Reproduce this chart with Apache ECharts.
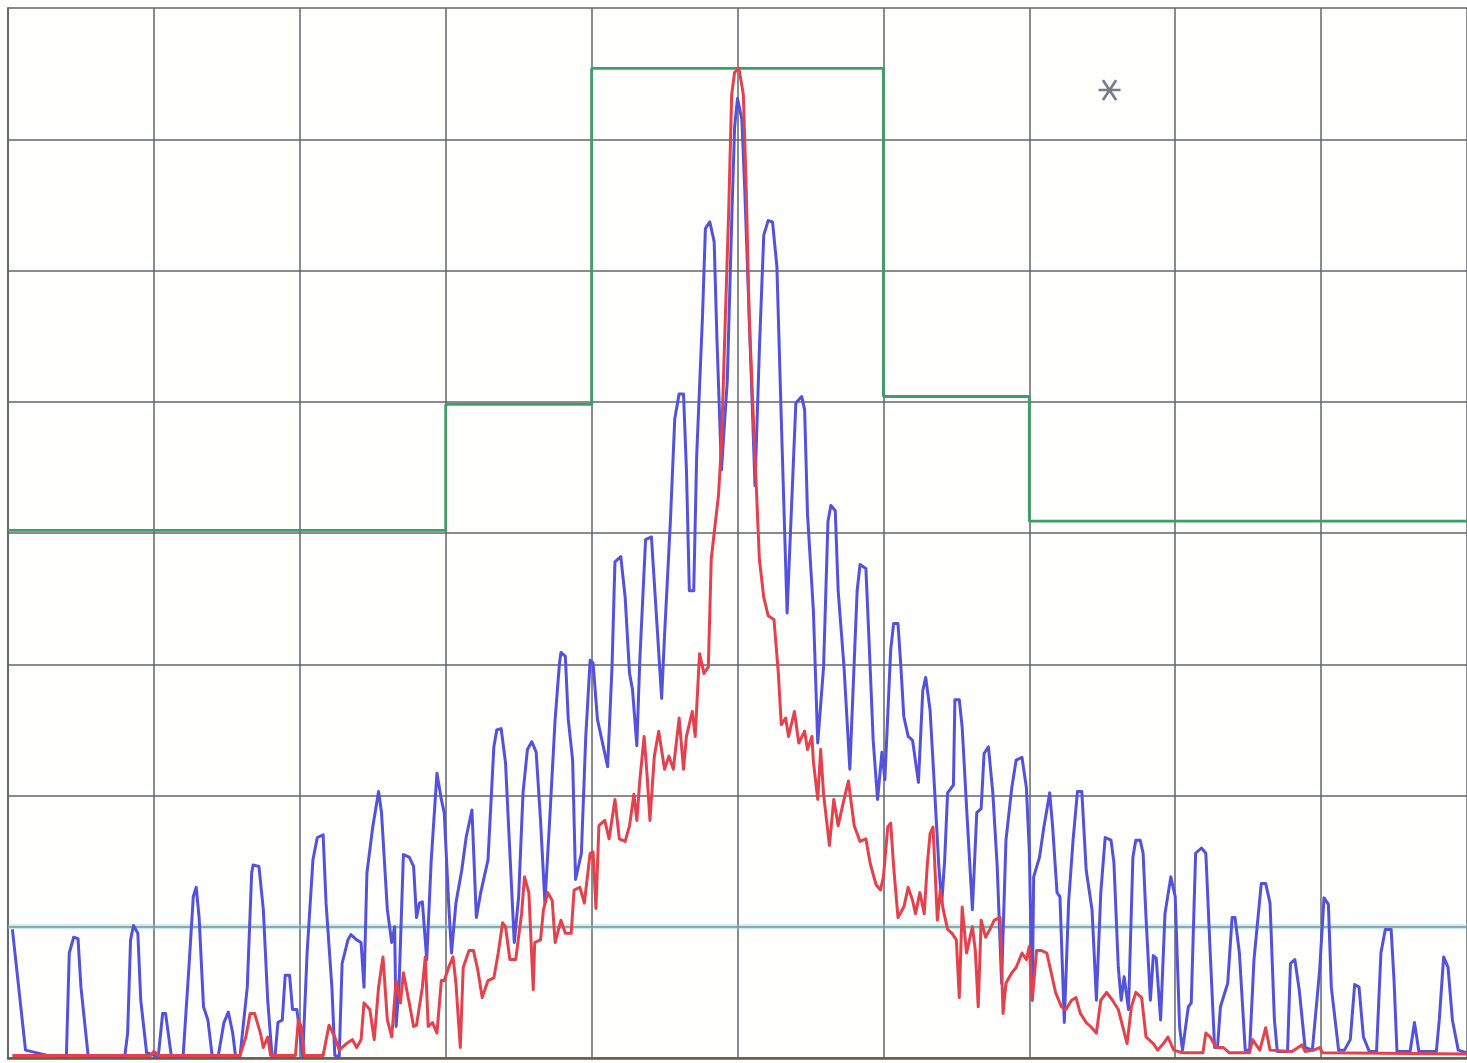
<!DOCTYPE html>
<html>
<head>
<meta charset="utf-8">
<script src="https://cdn.jsdelivr.net/npm/echarts@6/dist/echarts.min.js"></script>
<style>
html,body{margin:0;padding:0;background:#fefefd;}
#chart{width:1467px;height:1063px;}
</style>
</head>
<body>
<div id="chart"></div>
<script>
// Frequency offset in divisions from centre (span -5..5), level in dB (ref 0 at top, 10 dB/div)
const xTicks = [-5, -4, -3, -2, -1, 0, 1, 2, 3, 4, 5];
const yTicks = [-80, -70, -60, -50, -40, -30, -20, -10, 0];

const blueFreq = [
-4.97,-4.88,-4.73,-4.60,-4.58,-4.55,-4.52,-4.50,-4.45,-4.20,
-4.18,-4.16,-4.14,-4.11,-4.09,-4.05,-3.97,-3.94,-3.92,-3.88,
-3.80,-3.76,-3.73,-3.71,-3.69,-3.66,-3.63,-3.60,-3.56,-3.52,
-3.49,-3.46,-3.44,-3.41,-3.36,-3.33,-3.32,-3.28,-3.25,-3.22,
-3.19,-3.17,-3.15,-3.12,-3.10,-3.07,-3.05,-3.02,-2.98,-2.95,
-2.91,-2.88,-2.84,-2.82,-2.78,-2.76,-2.73,-2.71,-2.67,-2.65,
-2.61,-2.58,-2.56,-2.54,-2.50,-2.46,-2.44,-2.40,-2.37,-2.35,
-2.34,-2.32,-2.29,-2.25,-2.22,-2.20,-2.18,-2.16,-2.13,-2.10,
-2.06,-2.03,-2.01,-1.98,-1.96,-1.93,-1.89,-1.86,-1.82,-1.79,
-1.76,-1.71,-1.67,-1.65,-1.62,-1.59,-1.56,-1.53,-1.50,-1.47,
-1.44,-1.41,-1.38,-1.35,-1.32,-1.29,-1.25,-1.22,-1.21,-1.18,
-1.16,-1.13,-1.11,-1.07,-1.04,-1.01,-0.99,-0.96,-0.89,-0.86,
-0.84,-0.80,-0.77,-0.74,-0.72,-0.69,-0.67,-0.63,-0.59,-0.55,
-0.52,-0.50,-0.46,-0.43,-0.40,-0.37,-0.35,-0.33,-0.30,-0.28,
-0.24,-0.22,-0.19,-0.16,-0.14,-0.11,-0.07,-0.04,-0.02,0.00,
0.03,0.05,0.08,0.12,0.15,0.18,0.21,0.24,0.27,0.30,
0.34,0.37,0.40,0.44,0.46,0.48,0.52,0.55,0.59,0.62,
0.64,0.67,0.69,0.73,0.77,0.80,0.82,0.84,0.88,0.90,
0.93,0.96,0.99,1.01,1.05,1.07,1.10,1.12,1.14,1.17,
1.20,1.24,1.27,1.29,1.32,1.35,1.38,1.40,1.42,1.44,
1.48,1.49,1.52,1.54,1.57,1.61,1.64,1.67,1.69,1.72,
1.75,1.78,1.81,1.84,1.88,1.91,1.95,1.98,2.00,2.02,
2.03,2.07,2.10,2.14,2.16,2.19,2.21,2.24,2.27,2.30,
2.33,2.36,2.39,2.43,2.46,2.49,2.52,2.56,2.58,2.61,
2.63,2.65,2.68,2.71,2.73,2.76,2.78,2.80,2.83,2.85,
2.87,2.90,2.93,2.97,3.00,3.03,3.05,3.09,3.11,3.14,
3.18,3.21,3.24,3.27,3.29,3.31,3.36,3.39,3.41,3.44,
3.48,3.51,3.54,3.59,3.62,3.65,3.68,3.70,3.77,3.79,
3.82,3.85,3.89,3.94,3.99,4.02,4.05,4.07,4.12,4.16,
4.20,4.23,4.26,4.29,4.33,4.38,4.41,4.44,4.48,4.50,
4.52,4.61,4.64,4.67,4.79,4.81,4.84,4.87,4.90,4.94,5.00
];
const blueLevel = [
-70.2,-79.4,-79.8,-79.9,-72.0,-70.8,-70.9,-74.6,-79.9,-79.9,
-78.1,-71.0,-69.9,-70.5,-75.6,-79.6,-79.9,-76.6,-76.6,-79.9,
-79.9,-73.1,-67.7,-67.0,-69.3,-76.1,-77.1,-79.9,-79.9,-77.3,
-76.5,-78.1,-79.9,-79.9,-74.6,-65.9,-65.3,-65.4,-68.7,-75.6,
-79.9,-79.9,-77.3,-77.1,-73.7,-73.7,-76.3,-76.3,-79.9,-72.0,
-64.9,-63.2,-63.0,-68.2,-74.6,-79.8,-79.9,-72.8,-71.0,-70.6,
-71.0,-71.2,-74.6,-65.9,-62.4,-59.7,-61.3,-68.7,-71.2,-70.0,
-77.6,-74.6,-64.5,-64.7,-65.4,-69.3,-68.2,-68.1,-72.5,-65.1,
-58.3,-60.3,-61.3,-68.2,-72.0,-68.2,-65.7,-63.2,-61.1,-69.3,
-67.4,-64.9,-56.3,-55.0,-54.9,-57.5,-64.4,-71.2,-67.7,-59.8,
-56.5,-55.9,-56.7,-61.9,-68.2,-62.4,-54.2,-49.9,-49.1,-49.4,
-54.2,-57.3,-66.4,-64.4,-55.5,-49.7,-49.9,-54.2,-57.8,-50.2,
-42.2,-41.8,-44.9,-50.7,-51.9,-56.2,-49.8,-40.5,-40.3,-47.3,
-52.6,-47.8,-39.1,-31.3,-29.4,-29.4,-35.2,-44.4,-44.4,-34.2,
-23.5,-16.8,-16.3,-17.8,-25.5,-35.2,-28.4,-16.3,-9.1,-6.9,
-8.5,-13.9,-23.5,-36.4,-26.0,-17.3,-16.2,-16.3,-19.7,-31.3,
-46.1,-38.1,-30.1,-29.6,-30.6,-38.6,-45.9,-56.0,-50.2,-39.1,
-37.9,-38.3,-44.4,-50.2,-58.0,-49.8,-44.4,-42.4,-42.7,-47.8,
-55.8,-60.3,-56.7,-58.8,-48.9,-46.9,-46.9,-50.2,-54.0,-55.5,
-55.8,-59.0,-52.0,-51.0,-53.5,-59.4,-65.4,-68.2,-64.9,-59.8,
-59.2,-52.7,-52.7,-54.8,-60.9,-68.7,-61.3,-61.0,-56.8,-56.3,
-59.8,-65.4,-74.3,-63.4,-59.4,-57.3,-57.1,-59.4,-64.2,-75.6,
-66.2,-64.7,-62.4,-59.8,-62.4,-67.4,-67.7,-77.3,-68.0,-63.4,
-59.7,-59.7,-65.7,-68.7,-75.6,-67.4,-63.2,-63.4,-65.1,-73.1,
-75.6,-73.8,-76.3,-64.7,-63.4,-63.4,-64.4,-69.3,-75.6,-72.2,
-72.4,-77.1,-69.0,-66.2,-67.7,-77.6,-79.4,-76.1,-75.8,-64.4,
-64.0,-64.4,-72.0,-79.2,-79.2,-76.1,-74.3,-69.3,-69.3,-72.0,
-79.4,-79.4,-72.5,-66.7,-66.7,-68.2,-77.1,-79.5,-79.5,-72.8,
-72.5,-74.8,-79.2,-79.4,-73.3,-67.8,-68.3,-74.6,-79.4,-79.4,
-78.6,-74.4,-74.6,-78.4,-79.5,-79.5,-72.0,-70.2,-70.2,-74.1,
-79.5,-79.5,-77.3,-79.5,-79.5,-77.1,-72.3,-73.1,-77.1,-79.4,-79.6
];

const redFreq = [
-4.97,-4.02,-4.00,-3.97,-3.41,-3.37,-3.34,-3.31,-3.27,-3.25,
-3.22,-3.20,-3.03,-3.01,-2.99,-2.97,-2.84,-2.80,-2.76,-2.73,
-2.68,-2.64,-2.61,-2.58,-2.56,-2.52,-2.49,-2.46,-2.43,-2.40,
-2.37,-2.34,-2.31,-2.29,-2.25,-2.22,-2.20,-2.16,-2.14,-2.12,
-2.09,-2.06,-2.03,-2.01,-1.98,-1.95,-1.93,-1.90,-1.88,-1.84,
-1.81,-1.78,-1.75,-1.71,-1.67,-1.64,-1.61,-1.59,-1.56,-1.52,
-1.48,-1.46,-1.43,-1.40,-1.39,-1.35,-1.33,-1.30,-1.27,-1.25,
-1.21,-1.18,-1.14,-1.12,-1.08,-1.05,-1.01,-0.99,-0.97,-0.95,
-0.91,-0.88,-0.84,-0.81,-0.77,-0.74,-0.71,-0.69,-0.67,-0.64,
-0.62,-0.60,-0.57,-0.54,-0.50,-0.47,-0.44,-0.40,-0.37,-0.35,
-0.31,-0.29,-0.26,-0.23,-0.20,-0.18,-0.16,-0.13,-0.11,-0.09,
-0.06,-0.04,-0.02,0.01,0.04,0.06,0.08,0.12,0.15,0.18,
0.21,0.25,0.28,0.30,0.33,0.35,0.39,0.42,0.46,0.48,
0.51,0.52,0.55,0.57,0.59,0.63,0.66,0.69,0.73,0.76,
0.80,0.84,0.88,0.91,0.95,0.98,1.00,1.03,1.05,1.07,
1.10,1.14,1.17,1.20,1.22,1.25,1.28,1.30,1.32,1.34,
1.37,1.39,1.41,1.44,1.47,1.50,1.52,1.54,1.57,1.61,
1.63,1.65,1.67,1.70,1.73,1.76,1.80,1.82,1.84,1.88,
1.91,1.95,1.98,2.00,2.02,2.05,2.08,2.12,2.15,2.18,
2.22,2.25,2.29,2.32,2.35,2.39,2.42,2.46,2.49,2.53,
2.57,2.61,2.67,2.70,2.73,2.77,2.80,2.85,2.88,2.92,
2.95,2.99,3.05,3.19,3.21,3.24,3.28,3.33,3.37,3.51,
3.53,3.58,3.62,3.65,3.80,3.87,3.89,3.95,3.99,4.01,
5.00
];
const redLevel = [
-79.8,-79.8,-79.5,-79.8,-79.8,-78.4,-76.6,-76.6,-78.1,-79.2,
-78.4,-79.8,-79.8,-77.1,-77.6,-79.8,-79.8,-77.5,-78.4,-79.4,
-78.9,-78.6,-79.2,-78.6,-75.8,-76.3,-78.6,-74.6,-72.3,-77.1,
-78.4,-74.1,-75.8,-73.5,-75.8,-77.6,-77.5,-74.6,-72.3,-77.6,
-77.3,-78.1,-74.1,-74.1,-73.1,-72.3,-74.3,-79.2,-73.1,-71.8,
-71.8,-73.3,-75.4,-74.1,-73.9,-72.0,-69.7,-70.0,-72.5,-72.5,
-69.0,-66.2,-67.4,-74.8,-71.2,-71.0,-68.7,-67.4,-68.0,-71.2,
-69.5,-70.5,-70.5,-67.2,-67.0,-68.2,-64.4,-64.3,-68.6,-62.3,
-61.9,-63.3,-60.3,-63.3,-63.5,-62.3,-59.9,-61.9,-58.9,-55.5,
-58.4,-61.9,-57.0,-55.1,-58.0,-57.0,-58.0,-54.1,-58.0,-55.5,
-53.6,-55.5,-49.2,-50.7,-50.2,-42.0,-40.0,-37.1,-33.2,-26.0,
-15.3,-6.6,-4.9,-4.6,-6.6,-13.9,-23.5,-34.2,-42.0,-44.9,
-46.3,-46.6,-50.7,-54.6,-54.1,-55.5,-53.6,-56.0,-55.1,-56.5,
-55.5,-57.4,-60.3,-56.5,-59.9,-63.8,-60.3,-62.3,-60.3,-58.9,
-62.3,-63.5,-63.3,-65.2,-66.8,-67.2,-66.2,-62.4,-62.1,-65.4,
-69.3,-68.5,-67.0,-68.0,-69.0,-67.4,-69.0,-65.4,-62.9,-62.4,
-69.5,-67.2,-68.7,-70.2,-70.5,-71.0,-75.4,-68.5,-72.0,-70.0,
-71.8,-76.1,-69.5,-70.8,-70.2,-69.5,-69.3,-76.6,-74.3,-73.5,
-73.1,-72.0,-72.5,-71.5,-75.6,-71.8,-71.8,-72.0,-73.5,-75.0,
-76.1,-76.3,-75.6,-75.4,-76.6,-77.3,-77.6,-78.1,-75.6,-75.0,
-75.6,-76.3,-78.9,-76.1,-75.0,-75.4,-78.4,-78.9,-79.4,-78.9,
-78.4,-79.4,-79.6,-79.6,-78.1,-78.4,-79.2,-79.2,-79.6,-79.6,
-78.6,-79.4,-77.7,-79.4,-79.5,-79.0,-79.5,-79.4,-79.2,-79.6,
-79.7
];

// Limit mask (green step line)
const maskFreq  = [-5, -2, -2, -1, -1, 1, 1, 2, 2, 5];
const maskLevel = [-39.8, -39.8, -30.2, -30.2, -4.6, -4.6, -29.6, -29.6, -39.1, -39.1];

// Faint cyan reference line
const refFreq = [-5, 5];
const refLevel = [-70, -70];

// Marker (asterisk)
const markerFreq = [2.55];
const markerLevel = [-6.25];

function zip(xs, ys) {
  const n = Math.min(xs.length, ys.length);
  const out = [];
  for (let i = 0; i < n; i++) out.push([xs[i], ys[i]]);
  return out;
}

const chart = echarts.init(document.getElementById('chart'), null, {renderer: 'canvas'});
const gridColor = '#62666a';
chart.setOption({
  animation: false,
  backgroundColor: '#fefefd',
  grid: {left: 8, top: 8, width: 1468, height: 1050, containLabel: false},
  xAxis: {
    type: 'value', min: xTicks[0], max: xTicks[xTicks.length - 1], interval: 1,
    axisLabel: {show: false}, axisTick: {show: false},
    axisLine: {show: true, onZero: false, lineStyle: {color: '#6b5a45', width: 2.5}},
    splitLine: {show: true, lineStyle: {color: gridColor, width: 1.5}}
  },
  yAxis: {
    type: 'value', min: yTicks[0], max: yTicks[yTicks.length - 1], interval: 10,
    axisLabel: {show: false}, axisTick: {show: false},
    axisLine: {show: true, onZero: false, lineStyle: {color: gridColor, width: 1.8}},
    splitLine: {show: true, lineStyle: {color: gridColor, width: 1.5}}
  },
  series: [
    {
      type: 'line', data: zip(refFreq, refLevel), symbol: 'none', silent: true, z: 1,
      lineStyle: {color: '#8fd3d6', width: 5, opacity: 0.45}
    },
    {
      type: 'line', data: zip(maskFreq, maskLevel), symbol: 'none', z: 2,
      lineStyle: {color: '#3f9e68', width: 2.8}
    },
    {
      type: 'line', data: zip(blueFreq, blueLevel), symbol: 'none', z: 3,
      lineStyle: {color: '#5252dc', width: 3, join: 'round'}
    },
    {
      type: 'line', data: zip(redFreq, redLevel), symbol: 'none', z: 4,
      lineStyle: {color: '#e5414c', width: 3, join: 'round'}
    },
    {
      type: 'scatter', data: zip(markerFreq, markerLevel), z: 5,
      symbol: 'path://M0,10 L20,10 M4,2 L16,18 M4,18 L16,2',
      symbolSize: [22, 20],
      itemStyle: {color: 'rgba(0,0,0,0)', borderColor: '#555a6c', borderWidth: 2.6}
    }
  ]
});
</script>
</body>
</html>
